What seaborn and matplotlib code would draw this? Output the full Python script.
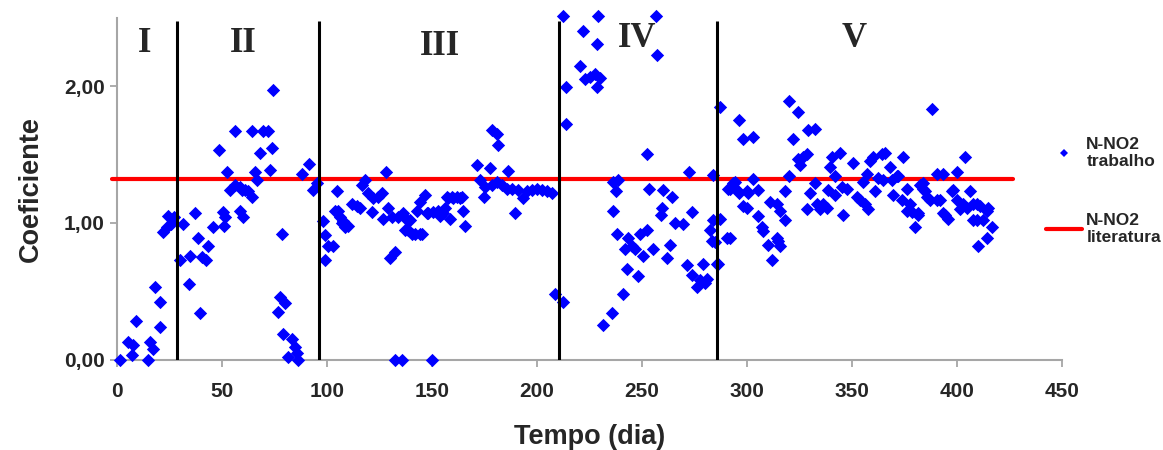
import numpy as np
import pandas as pd
import matplotlib
matplotlib.use("Agg")
import matplotlib.pyplot as plt
import seaborn as sns
from matplotlib.ticker import FuncFormatter
from matplotlib.lines import Line2D

# dados (dia, coeficiente) por fase
dias_I = [1.3, 5.3, 6.8, 7.6, 8.9, 14.8, 15.6, 17.2, 18.0, 20.3, 20.3, 21.9, 23.5, 24.3, 25.5, 26.8]
coef_I = [0.00, 0.13, 0.03, 0.11, 0.28, 0.00, 0.13, 0.08, 0.53, 0.42, 0.24, 0.93, 0.97, 1.05, 0.99, 1.04]

dias_II = [29.9, 31.5, 34.3, 34.6, 37.0, 38.6, 39.4, 40.2, 42.3, 43.4, 45.7, 48.6, 50.5, 50.8, 51.3,
           52.1, 53.7, 56.1, 56.1, 58.5, 58.5, 59.3, 60.0, 60.9, 62.4, 64.0, 64.0, 65.6, 66.4, 68.0,
           69.6, 71.9, 72.8, 73.6, 74.3, 76.7, 77.5, 78.3, 79.1, 79.9, 81.5, 83.1, 84.7, 85.5, 86.3,
           87.9, 91.5, 93.4, 95.0]
coef_II = [0.73, 0.99, 0.55, 0.76, 1.07, 0.89, 0.34, 0.75, 0.73, 0.83, 0.97, 1.53, 1.08, 0.98, 1.04,
           1.37, 1.24, 1.67, 1.28, 1.09, 1.26, 1.24, 1.04, 1.24, 1.23, 1.19, 1.67, 1.37, 1.31, 1.51,
           1.67, 1.67, 1.39, 1.55, 1.97, 0.35, 0.46, 0.92, 0.19, 0.41, 0.02, 0.15, 0.09, 0.05, 0.00,
           1.36, 1.43, 1.24, 1.29]

dias_III = [98.2, 99.0, 99.0, 100.6, 102.9, 103.7, 104.5, 105.3, 106.1, 106.9, 107.7, 108.5, 110.1,
            111.7, 114.1, 115.7, 116.5, 118.0, 119.6, 121.2, 122.0, 124.4, 126.0, 126.8, 128.0, 129.1,
            130.0, 130.8, 132.3, 132.3, 133.9, 135.5, 136.3, 137.1, 137.9, 138.7, 139.5, 140.3, 141.9,
            142.7, 144.2, 144.2, 145.1, 146.6, 147.4, 148.2, 149.8, 150.6, 153.0, 153.8, 155.4, 156.2,
            157.0, 157.7, 158.5, 159.3, 160.1, 161.7, 163.3, 164.1, 164.9, 165.7, 171.3, 173.0, 174.6,
            175.3, 177.6, 178.4, 178.4, 180.8, 180.8, 181.6, 183.2, 185.6, 186.3, 188.0, 189.5, 191.1,
            193.5, 195.1, 197.5, 199.9, 202.2, 204.6, 207.0, 208.6]
coef_III = [1.01, 0.91, 0.73, 0.83, 0.83, 1.09, 1.23, 1.09, 1.04, 1.00, 1.01, 0.97, 0.98,
            1.14, 1.12, 1.11, 1.28, 1.31, 1.22, 1.08, 1.18, 1.19, 1.22, 1.03, 1.37, 1.11,
            0.74, 1.04, 0.79, 0.00, 1.04, 0.00, 1.07, 0.95, 1.02, 0.95, 1.02, 0.92, 0.92,
            1.09, 0.92, 1.15, 0.92, 1.20, 1.07, 1.07, 0.00, 1.08, 1.09, 1.05, 1.07, 1.11,
            1.19, 1.18, 1.03, 1.19, 1.18, 1.19, 1.18, 1.19, 1.09, 0.98, 1.42, 1.31, 1.19,
            1.26, 1.40, 1.68, 1.28, 1.65, 1.30, 1.57, 1.28, 1.25, 1.38, 1.25, 1.07, 1.24,
            1.18, 1.23, 1.24, 1.25, 1.24, 1.23, 1.22, 0.48]

dias_IV = [212.2, 212.5, 213.8, 213.8, 220.5, 222.1, 222.9, 225.3, 227.6, 228.4, 228.4, 229.2, 230.0,
           231.6, 235.6, 236.4, 236.4, 237.6, 238.0, 238.7, 241.1, 241.9, 243.0, 243.5, 245.1, 246.7,
           248.3, 249.1, 250.7, 252.3, 252.6, 253.5, 255.4, 256.7, 257.3, 258.9, 259.4, 260.2, 261.8,
           263.4, 264.2, 265.8, 269.4, 271.3, 272.6, 273.7, 273.7, 276.1, 277.7, 279.3, 280.1, 280.8,
           282.4, 283.3, 283.7, 283.7, 284.8, 285.6]
coef_IV = [2.51, 0.42, 1.99, 1.72, 2.15, 2.40, 2.05, 2.07, 2.09, 2.31, 1.99, 2.51, 2.06,
           0.25, 0.34, 1.30, 1.09, 1.23, 0.92, 1.31, 0.48, 0.81, 0.66, 0.89, 0.83, 0.81,
           0.61, 0.92, 0.76, 1.50, 0.95, 1.25, 0.81, 2.51, 2.23, 1.06, 1.11, 1.24, 0.74,
           0.84, 1.19, 1.00, 0.99, 0.69, 1.37, 1.08, 0.62, 0.53, 0.58, 0.70, 0.56, 0.59,
           0.95, 0.87, 1.02, 1.35, 0.86, 0.70]

dias_V = [286.4, 287.2, 287.2, 290.4, 291.1, 292.0, 292.0, 293.5, 294.4, 295.2, 296.0, 296.4, 298.3,
          298.3, 299.9, 299.9, 300.7, 303.1, 303.1, 305.5, 305.5, 307.1, 307.8, 310.2, 311.0, 311.8,
          314.2, 314.2, 315.0, 315.8, 315.8, 318.2, 318.2, 320.2, 320.2, 321.8, 324.2, 324.5, 325.3,
          326.9, 328.5, 328.5, 329.3, 330.1, 332.5, 332.5, 333.3, 334.9, 336.4, 338.0, 338.8, 339.6,
          340.4, 342.0, 342.0, 344.4, 345.2, 346.0, 347.6, 350.4, 352.3, 353.9, 355.5, 356.3, 357.1,
          357.9, 358.7, 360.3, 361.1, 362.6, 364.3, 365.0, 365.8, 368.2, 369.0, 369.8, 371.4, 372.2,
          373.8, 374.3, 376.2, 376.2, 377.7, 378.5, 380.1, 381.7, 381.7, 382.5, 384.1, 384.1, 384.9,
          385.7, 387.3, 388.1, 390.5, 390.5, 392.1, 393.6, 393.6, 394.4, 396.0, 397.6, 398.4, 400.0,
          400.0, 401.6, 403.2, 403.9, 404.8, 406.3, 407.9, 407.9, 409.5, 409.5, 410.3, 411.1, 412.7,
          414.3, 414.3, 415.1, 416.7]
coef_V = [0.70, 1.85, 1.03, 0.89, 1.25, 0.89, 1.25, 1.29, 1.30, 1.24, 1.22, 1.75, 1.61,
          1.12, 1.11, 1.23, 1.22, 1.63, 1.32, 1.24, 1.05, 0.97, 0.94, 0.84, 1.15, 0.73,
          1.14, 0.89, 0.87, 0.83, 1.09, 1.02, 1.23, 1.34, 1.89, 1.61, 1.47, 1.81, 1.42,
          1.48, 1.50, 1.10, 1.68, 1.22, 1.69, 1.29, 1.14, 1.10, 1.14, 1.11, 1.24, 1.41,
          1.48, 1.34, 1.20, 1.51, 1.26, 1.06, 1.25, 1.44, 1.19, 1.17, 1.30, 1.14, 1.36,
          1.10, 1.45, 1.48, 1.23, 1.33, 1.50, 1.31, 1.51, 1.41, 1.31, 1.20, 1.34, 1.34,
          1.17, 1.48, 1.25, 1.09, 1.14, 1.08, 0.97, 1.07, 1.06, 1.28, 1.25, 1.29, 1.23,
          1.19, 1.17, 1.83, 1.36, 1.17, 1.17, 1.36, 1.07, 1.06, 1.03, 1.23, 1.24, 1.37,
          1.17, 1.10, 1.14, 1.48, 1.11, 1.23, 1.14, 1.02, 1.14, 1.02, 0.83, 1.12, 1.02,
          0.89, 1.09, 1.11, 0.97]

# valor de literatura e limites das fases
coef_literatura = 1.32
literatura_x = [-2.7, 426.7]
limites_fases = [28.3, 96.2, 210.5, 285.8]
fases = ["I", "II", "III", "IV", "V"]
fases_x = [12.9, 59.8, 153.8, 247.5, 351.0]
fases_y = [2.315, 2.315, 2.293, 2.345, 2.352]
xticks = [0, 50, 100, 150, 200, 250, 300, 350, 400, 450]
yticks = [0, 1, 2]

df = pd.DataFrame({
    "dia": dias_I + dias_II + dias_III + dias_IV + dias_V,
    "coef": coef_I + coef_II + coef_III + coef_IV + coef_V,
})

sns.set_style("ticks")
plt.rcParams['font.family'] = ['Liberation Sans', 'DejaVu Sans']
plt.rcParams['font.weight'] = 'bold'

fig = plt.figure(figsize=(11.63, 4.5), dpi=100)
ax = fig.add_axes([0.1009, 0.201, 0.812, 0.7595])

azul = "#0000FF"
vermelho = "#FF0000"
cinza = "#A6A6A6"

# pontos medidos e linha de referência
sns.scatterplot(data=df, x="dia", y="coef", marker="D", s=46, color=azul,
                linewidth=0, ax=ax, clip_on=False, zorder=4, legend=False)
ax.plot(literatura_x, [coef_literatura, coef_literatura], color=vermelho,
        lw=3, clip_on=False, zorder=3)
ax.vlines(limites_fases, 0, 2.48, color="black", lw=2.2, zorder=5)

for txt, fx, fy in zip(fases, fases_x, fases_y):
    ax.text(fx, fy, txt, ha="center", va="center", fontsize=25, fontweight="bold",
            family=["Liberation Serif", "DejaVu Serif"])

ax.set_xlim(0, 450)
ax.set_ylim(0, 2.5)
ax.set_xticks(xticks)
ax.set_yticks(yticks)
ax.yaxis.set_major_formatter(FuncFormatter(lambda v, p: f"{v:.2f}".replace(".", ",")))
ax.tick_params(axis="both", labelsize=15, color=cinza, length=5, width=1.3)
ax.tick_params(axis="x", pad=11)
ax.tick_params(axis="y", pad=4)
for lab in ax.get_xticklabels() + ax.get_yticklabels():
    lab.set_fontweight("bold")

sns.despine(ax=ax)
for side in ["left", "bottom"]:
    ax.spines[side].set_color(cinza)
    ax.spines[side].set_linewidth(1.5)

ax.set_xlabel("Tempo (dia)", fontsize=19.5, fontweight="bold")
ax.set_ylabel("Coeficiente", fontsize=19.5, fontweight="bold")
ax.xaxis.set_label_coords(0.5, -0.19)
ax.yaxis.set_label_coords(-0.078, 0.5)

handles = [
    Line2D([], [], marker="D", color=azul, ls="none", markersize=4.5, markeredgewidth=0),
    Line2D([], [], color=vermelho, lw=3),
]
fig.legend(handles, ["N-NO2\ntrabalho", "N-NO2\nliteratura"], loc="upper left",
           bbox_to_anchor=(1046 / 1163, 0.696), frameon=False, prop={"size": 12.5, "weight": "bold"},
           handlelength=2.07, handletextpad=0.25, labelspacing=2.5, borderpad=0, borderaxespad=0)

fig.savefig("out.png", dpi=100)
